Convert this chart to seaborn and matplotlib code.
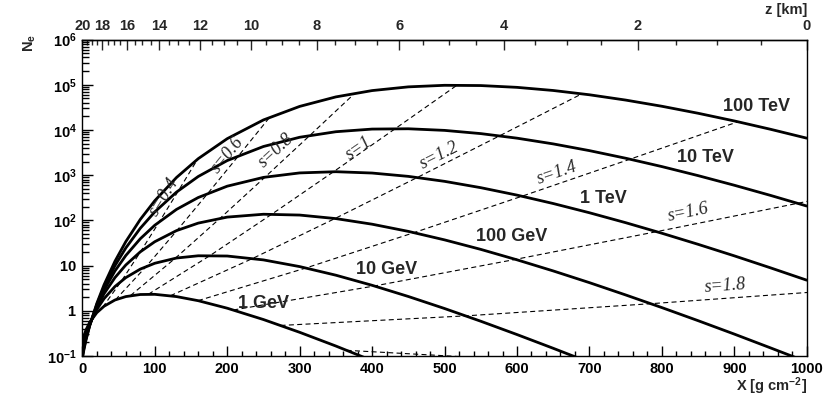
import numpy as np
import matplotlib
matplotlib.use("Agg")
import matplotlib.pyplot as plt
import seaborn as sns
from matplotlib.ticker import (FixedLocator, FixedFormatter, MultipleLocator,
                               LogLocator, NullFormatter, FuncFormatter)

# ---------------- data ----------------
depth = [0, 0.5, 2, 5, 10, 20, 30, 45, 60, 80, 100, 130, 160, 200, 250, 300,
         350, 400, 450, 500, 550, 600, 650, 700, 750, 800, 850, 900, 950, 1000]

ne_1gev = [0.197, 0.221, 0.275, 0.377, 0.550, 0.909, 1.26, 1.73, 2.06, 2.29,
           2.31, 2.06, 1.67, 1.14, 0.640, 0.334, 0.166, 0.079]
ne_10gev = [0.142, 0.161, 0.209, 0.309, 0.511, 1.072, 1.858, 3.44, 5.41, 8.35,
            11.24, 14.68, 16.46, 16.26, 13.34, 9.49, 6.12, 3.66, 2.07, 1.122,
            0.587, 0.298, 0.148, 0.0722]
ne_100gev = [0.1166, 0.133, 0.177, 0.275, 0.491, 1.195, 2.388, 5.41, 10.30,
             20.1, 33.7, 59.3, 86.9, 118.0, 136.5, 130.9, 109.3, 82.2, 57.0,
             37.0, 22.8, 13.4, 7.61, 4.19, 2.24, 1.176, 0.604, 0.305, 0.151,
             0.0742]
ne_1tev = [0.1013, 0.116, 0.157, 0.2525, 0.477, 1.294, 2.874, 7.59, 16.69,
           39.2, 78.0, 174.7, 320, 570, 892, 1120, 1191, 1113, 939, 729, 528,
           361.5, 235.6, 147.3, 88.8, 51.9, 29.5, 16.4, 8.90, 4.75]
ne_10tev = [0.0907, 0.1046, 0.1433, 0.2365, 0.4665, 1.380, 3.331, 9.93, 24.5,
            66.9, 153.7, 421.8, 933.5, 2101, 4301, 6881, 9125, 10440, 10605,
            9770, 8292, 6573, 4909, 3484, 2366, 1546, 975.6, 597.6, 356.2,
            207.3]
ne_100tev = [0.0829, 0.0959, 0.1329, 0.2241, 0.4583, 1.454, 3.764, 12.41,
             33.86, 104.8, 271.8, 887.3, 2315, 6405, 16635, 33131, 53767,
             74170, 89640, 97046, 95803, 87430, 74530, 59900, 45740, 33370,
             23370, 15796, 10330, 6572]

energy_labels = ["1 GeV", "10 GeV", "100 GeV", "1 TeV", "10 TeV", "100 TeV"]
energy_curves = [ne_1gev, ne_10gev, ne_100gev, ne_1tev, ne_10tev, ne_100tev]

# constant-age (s) lines: points where each s meets the energy curves
age_labels = ["s=0.4", "s=0.6", "s=0.8", "s=1", "s=1.2", "s=1.4", "s=1.6",
              "s=1.8", "s=2"]
age_x = [
    [28.06, 54.28, 80.49, 106.71, 132.92, 159.14],
    [45.60, 88.20, 130.80, 173.40, 216.00, 258.59],
    [66.33, 128.29, 190.26, 252.22, 314.18, 376.14],
    [91.21, 176.40, 261.60, 346.80, 431.99, 517.19],
    [121.61, 235.21, 348.80, 462.40, 575.99, 689.59],
    [159.61, 308.71, 457.80, 606.90, 755.99, 905.08],
    [208.48, 403.21, 597.95, 792.68, 987.41, 1182.15],
    [273.63, 529.21, 784.80, 1040.39],
    [364.83, 705.62],
]
age_n = [
    [1.196, 4.623, 20.42, 95.37, 459.5, 2258],
    [1.741, 9.567, 60.03, 398.3, 2727, 19043],
    [2.161, 14.53, 111.5, 905.2, 7581, 64768],
    [2.323, 16.70, 137.2, 1191, 10674, 97553],
    [2.151, 14.39, 109.9, 888.3, 7405, 62970],
    [1.672, 8.850, 53.47, 341.8, 2253, 15153],
    [1.041, 3.535, 13.71, 56.25, 238.1, 1028],
    [0.4737, 0.7714, 1.434, 2.820],
    [0.1335, 0.0666],
]

ytick_vals = [0.1, 1, 10, 1e2, 1e3, 1e4, 1e5, 1e6]
ytick_text = [r"$\mathbf{10^{-1}}$", r"$\mathbf{1}$", r"$\mathbf{10}$",
              r"$\mathbf{10^{2}}$", r"$\mathbf{10^{3}}$", r"$\mathbf{10^{4}}$",
              r"$\mathbf{10^{5}}$", r"$\mathbf{10^{6}}$"]
z_major = list(range(0, 21, 2))

# ---------------- style ----------------
sns.set_style("ticks")
plt.rcParams["font.family"] = ["Liberation Sans", "DejaVu Sans"]
plt.rcParams["font.weight"] = "bold"
plt.rcParams["mathtext.fontset"] = "custom"
plt.rcParams["mathtext.rm"] = "Liberation Sans:bold"
plt.rcParams["mathtext.bf"] = "Liberation Sans:bold"
plt.rcParams["mathtext.it"] = "Liberation Sans:bold:italic"
plt.rcParams["axes.linewidth"] = 1.0

fig = plt.figure(figsize=(8.3, 3.97), dpi=100)
ax = fig.add_axes([0.0992, 0.1033, 0.8728, 0.7972])

for vals in energy_curves:
    sns.lineplot(x=depth[:len(vals)], y=vals, ax=ax, color="black",
                 linewidth=2.0, estimator=None, sort=False)

for xs, ns in zip(age_x, age_n):
    sns.lineplot(x=xs, y=ns, ax=ax, color="black", linewidth=0.8,
                 linestyle=(0, (4.5, 3)), estimator=None, sort=False)

ax.set_yscale("log")
ax.set_xlim(0, 1000)
ax.set_ylim(0.1, 1e6)
ax.set_xlabel("")
ax.set_ylabel("")

ax.xaxis.set_major_locator(MultipleLocator(100))
ax.xaxis.set_minor_locator(MultipleLocator(20))
ax.yaxis.set_major_locator(FixedLocator(ytick_vals))
ax.yaxis.set_major_formatter(FixedFormatter(ytick_text))
ax.yaxis.set_minor_locator(LogLocator(base=10, subs=np.arange(2, 10), numticks=30))
ax.yaxis.set_minor_formatter(NullFormatter())

ax.tick_params(axis="both", which="both", direction="in", top=False,
               right=False, width=1.0, labelsize=10.5, colors="black")
ax.tick_params(axis="x", which="major", length=7.2, pad=4)
ax.tick_params(axis="x", which="minor", length=3.6)
ax.tick_params(axis="y", which="major", length=7.7, pad=4)
ax.tick_params(axis="y", which="minor", length=4.8)
for sp in ax.spines.values():
    sp.set_visible(True)
    sp.set_linewidth(1.0)
    sp.set_color("black")

# top altitude axis (scale transform between depth and altitude)
H_SCALE = 8.4
E0 = np.exp(-20.0 / H_SCALE)
A_NORM = 1000.0 / (1.0 - E0) * (1.0 - 1e-6)


def x_to_z(x):
    x = np.asarray(x, dtype=float)
    arg = np.clip(x / A_NORM + E0, 1e-9, None)
    return -H_SCALE * np.log(arg)


def z_to_x(z):
    z = np.asarray(z, dtype=float)
    return A_NORM * (np.exp(-z / H_SCALE) - E0)


secax = ax.secondary_xaxis("top", functions=(x_to_z, z_to_x))
secax.xaxis.set_major_locator(FixedLocator(z_major))
secax.xaxis.set_minor_locator(FixedLocator(np.arange(0, 20.01, 0.5)))
secax.xaxis.set_major_formatter(FuncFormatter(lambda v, p: f"{abs(v):.0f}"))
secax.tick_params(which="both", direction="in", width=1.0, labelsize=10.5)
secax.tick_params(which="major", length=7.2, pad=5)
secax.tick_params(which="minor", length=3.6)

# energy labels
energy_pos = [(249.9, 1.476), (420.2, 8.09), (592.8, 44.4), (719.5, 304),
              (859.6, 2472), (930.4, 32660)]
for lab, (px, py) in zip(energy_labels, energy_pos):
    ax.text(px, py, lab, ha="center", va="center", fontsize=13,
            fontweight="bold")

# age labels
age_pos = [(112.8, 329, 58), (200.4, 2740, 50.7), (267.4, 3413, 42.8),
           (382, 3917, 34.8), (492.8, 2658, 26.8), (654.9, 1092, 18.9),
           (836.8, 149, 11.3), (887.9, 3.45, 4.1)]
for lab, (px, py, rot) in zip(age_labels[:8], age_pos):
    ax.text(px, py, lab, ha="center", va="center", fontsize=13,
            family="Liberation Serif", style="italic", fontweight="normal",
            rotation=rot, rotation_mode="anchor")

fig.text(807 / 830, 1 - 10 / 397, "z [km]", ha="right", va="center",
         fontsize=10.5, fontweight="bold")
fig.text(807 / 830, 1 - 386 / 397, r"X [g cm$^{-2}$]", ha="right",
         va="center", fontsize=10.5, fontweight="bold")
fig.text(30 / 830, 1 - 34 / 397, r"$\mathbf{N_{e}}$", ha="center", va="top",
         rotation=90, fontsize=10.5)

fig.savefig("out.png", dpi=100)
